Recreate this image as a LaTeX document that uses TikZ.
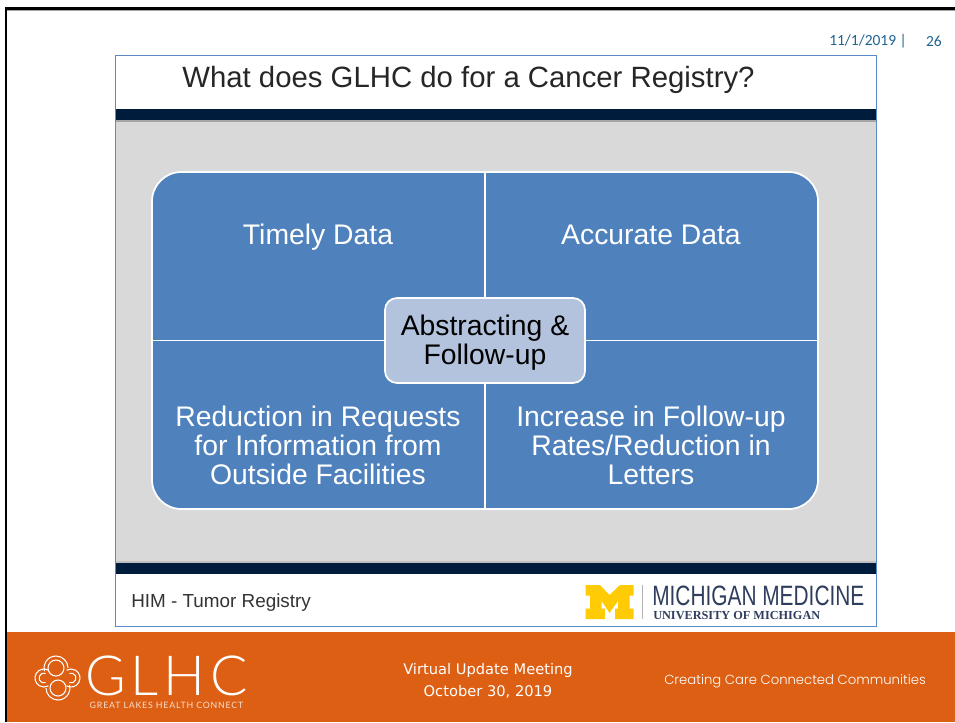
\documentclass[tikz,border=0pt]{standalone}
\usepackage{fontspec}
\usepackage{xcolor}
\setmainfont{Liberation Sans}
\newfontfamily\verafont{DejaVu Sans}
\newfontfamily\tagfont{Poppins Light}
\newfontfamily\thinfont{Lato Light}
\newfontfamily\trackfont[LetterSpace=9]{Lato}
\newfontfamily\datefont{Carlito}
\newfontfamily\serifbold{Liberation Serif}
\definecolor{bandnavy}{HTML}{001C3D}
\definecolor{framegray}{HTML}{D9D9D9}
\definecolor{quadblue}{HTML}{4F81BD}
\definecolor{hubblue}{HTML}{B3C3DE}
\definecolor{edgeblue}{HTML}{5B8BC7}
\definecolor{footorange}{HTML}{DC5F13}
\definecolor{mmaize}{HTML}{FFCB05}
\definecolor{mnavy}{HTML}{2F3E5F}
\definecolor{datecolor}{HTML}{1F6391}
\newcommand{\logoarc}[5]{\draw[logoline] ([shift={(-#4:#3)}]#1,#2) arc[start angle=-#4, end angle=-#5, radius=#3];}
\tikzset{
    quadtext/.style={text=white, align=center, font=\fontsize{21.25}{21.75}\selectfont, inner sep=0pt},
    hubbox/.style={draw=white, line width=1.3pt, fill=hubblue, rounded corners=9pt, minimum width=150pt, minimum height=63.75pt, align=center, inner sep=0pt, text=black, font=\fontsize{21.25}{21.75}\selectfont},
    foottext/.style={text=white, align=center, inner sep=0pt},
    logoline/.style={white, line width=0.8pt}
}
\begin{document}
\begin{tikzpicture}[x=0.75pt, y=-0.75pt]
    \useasboundingbox (0,0) rectangle (955,722);
    \fill[white] (0,0) rectangle (955,722);

    % Slide frame
    \fill[black] (5,7) rectangle (955,10);
    \fill[black] (5,7) rectangle (7,722);
    \fill[gray!70] (7,10) rectangle (955,11);

    % Inner slide
    \draw[edgeblue, line width=0.9pt, fill=white] (115.5,55.5) rectangle (876.5,626.5);
    \fill[framegray] (116,120) rectangle (876,563);
    \fill[bandnavy] (116,108.5) rectangle (876,120);
    \fill[gray!70] (116,120) rectangle (876,122);
    \fill[bandnavy] (116,563) rectangle (876,574);
    \fill[gray!50] (116,561) rectangle (876,563);
    \node[anchor=base, inner sep=0pt, text=black!85, font=\fontsize{22}{23}\selectfont] (slidetitle) at (468.5,87) {What does GLHC do for a Cancer Registry?};
    \node[anchor=base west, inner sep=0pt, text=black!80, font=\fontsize{14.15}{15}\selectfont] (himlabel) at (131,607) {HIM - Tumor Registry};

    % Four quadrants
    \draw[white, line width=1.3pt, fill=quadblue, rounded corners=22pt] (152,172) rectangle (818,509);
    \coordinate (qtop) at (485,172);
    \coordinate (qbottom) at (485,509);
    \coordinate (qleft) at (152,340.5);
    \coordinate (qright) at (818,340.5);
    \draw[white, line width=1.3pt] (qtop) -- (qbottom);
    \draw[white, line width=1.3pt] (qleft) -- (qright);
    \node[quadtext, anchor=base] (timely) at (318,244) {Timely Data};
    \node[quadtext, anchor=base] (accurate) at (651,244) {Accurate Data};
    \node[quadtext] (requests) at (318,445.5) {Reduction in Requests\\for Information from\\Outside Facilities};
    \node[quadtext] (rates) at (651,445.5) {Increase in Follow-up\\Rates/Reduction in\\Letters};
    \node[hubbox] (hub) at (485,340.5) {\rule{0pt}{18pt}Abstracting \&\\Follow-up};

    % Date and page
    \node[anchor=east, inner sep=0pt, text=datecolor, font=\datefont\fontsize{11.6}{13}\selectfont] (slidedate) at (907,41) {11/1/2019 |};
    \node[anchor=east, inner sep=0pt, text=datecolor, font=\datefont\fontsize{11.6}{13}\selectfont] (slidepage) at (942,41) {26};

    % Michigan mark
    \fill[mmaize] (585.5,585) -- (600,585) -- (609.5,595) -- (620,585) -- (633.5,585) -- (633.5,595.5) -- (629.5,595.5) -- (629.5,608.5) -- (633.5,608.5) -- (633.5,619) -- (615,619) -- (615,608.5) -- (618,608.5) -- (618,601) -- (609.5,613) -- (601.5,601) -- (601.5,608.5) -- (605,608.5) -- (605,619) -- (585.5,619) -- (585.5,608.5) -- (590,608.5) -- (590,595.5) -- (585.5,595.5) -- cycle;
    \draw[gray!60, line width=0.6pt] (642.5,585) -- (642.5,619);
    \node[anchor=base west, inner sep=0pt, text=mnavy, font=\fontsize{21}{22}\selectfont] (medname) at (652,605) {\scalebox{0.745}[1]{MICHIGAN MEDICINE}};
    \node[anchor=base west, inner sep=0pt, text=mnavy, font=\serifbold\bfseries\fontsize{9.2}{10}\selectfont] (medsub) at (653,619) {UNIVERSITY OF MICHIGAN};

    % Footer
    \fill[footorange] (7,632) rectangle (955,722);
    \foreach \cx/\cy in {56/668, 58/688}{
        \draw[logoline] (\cx,\cy) circle (8);
    }
    \logoarc{56}{668}{12}{0}{195}
    \logoarc{58}{688}{12}{180}{375}
    \logoarc{44}{678}{9}{60}{300}
    \logoarc{44}{678}{5}{70}{290}
    \logoarc{71}{678}{9}{-120}{120}
    \logoarc{71}{678}{5}{-110}{110}
    \node[foottext, anchor=base, font=\thinfont\fontsize{41.5}{44}\selectfont] (glhcmark) at (166.5,695) {G\kern3.5pt L\kern3.5pt H\kern3.5pt C};
    \node[foottext, anchor=base, text=white!80!footorange, font=\trackfont\fontsize{6.6}{7}\selectfont] (glhcname) at (166.5,708.5) {GREAT LAKES HEALTH CONNECT};
    \node[foottext, font=\verafont\fontsize{11}{16.5}\selectfont] (meeting) at (488,681) {Virtual Update Meeting\\October 30, 2019};
    \node[foottext, font=\tagfont\fontsize{9.9}{12}\selectfont] (tagline) at (795,681.5) {Creating Care Connected Communities};
\end{tikzpicture}
\end{document}
